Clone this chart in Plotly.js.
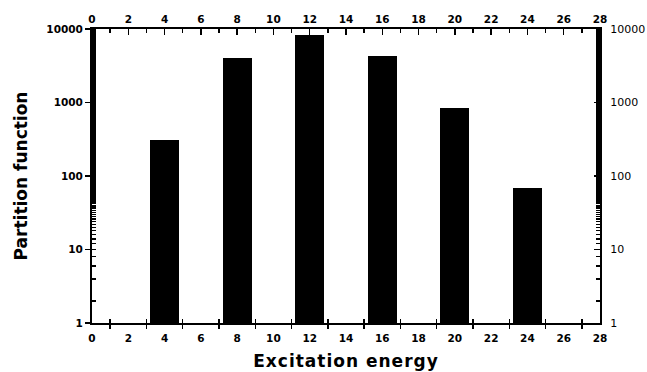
<!DOCTYPE html>
<html>
<head>
<meta charset="utf-8">
<script src="https://cdn.plot.ly/plotly-3.0.1.min.js"></script>
<style>
html,body{margin:0;padding:0;background:#fff;}
#chart{width:647px;height:372px;}
.g-xtitle text{letter-spacing:1px;}
</style>
</head>
<body>
<div id="chart"></div>
<script>
const energies = [4, 8, 12, 16, 20, 24];
const partition = [310, 4025, 8360, 4325, 845, 68];
const xTickVals = [0, 2, 4, 6, 8, 10, 12, 14, 16, 18, 20, 22, 24, 26, 28];
const xOddTicks = [1, 3, 5, 7, 9, 11, 13, 15, 17, 19, 21, 23, 25, 27];
const yTickVals = [1, 10, 100, 1000, 10000];
const yTickText = ['1', '10', '100', '1000', '10000'];

const fam = 'DejaVu Sans, Liberation Sans, Arial, sans-serif';
const boldTick = {family: fam, size: 10.5, color: '#000', weight: 'bold'};
const plainTick = {family: fam, size: 11, color: '#000'};
const titleFont = {family: fam, size: 17, color: '#000', weight: 'bold'};

const xBase = {
  range: [0, 28], tickmode: 'array', tickvals: xTickVals, ticktext: xTickVals.map(String),
  showline: true, linecolor: '#000', linewidth: 2, showgrid: false, zeroline: false,
  tickfont: boldTick, fixedrange: true
};

const data = [
  {type: 'bar', x: energies, y: partition, width: 1.6, marker: {color: '#000', line: {width: 0}}, xaxis: 'x', yaxis: 'y', hoverinfo: 'none'},
  {type: 'scatter', mode: 'markers', x: [energies[0]], y: [partition[0]], marker: {opacity: 0}, xaxis: 'x2', yaxis: 'y2', hoverinfo: 'none', showlegend: false},
  {type: 'scatter', mode: 'markers', x: [energies[0]], y: [partition[0]], marker: {opacity: 0}, xaxis: 'x3', yaxis: 'y', hoverinfo: 'none', showlegend: false}
];

const layout = {
  width: 647, height: 372,
  margin: {l: 92, r: 47, t: 29, b: 49},
  paper_bgcolor: '#fff', plot_bgcolor: '#fff',
  showlegend: false,
  bargap: 0,
  xaxis: Object.assign({}, xBase, {side: 'bottom', anchor: 'y',
    ticks: '', ticklabelstandoff: 4,
    minor: {tickmode: 'array', tickvals: xOddTicks, ticks: 'outside', ticklen: 4, tickwidth: 1.5, tickcolor: '#000'},
    title: {text: 'Excitation energy', font: titleFont, standoff: 13}}),
  xaxis3: {range: [0, 28], overlaying: 'x', anchor: 'y', side: 'bottom', showline: false, showgrid: false, zeroline: false,
    tickmode: 'array', tickvals: xOddTicks, ticks: 'inside', ticklen: 4, tickwidth: 1.5, tickcolor: '#000',
    showticklabels: false, fixedrange: true},
  xaxis2: Object.assign({}, xBase, {side: 'top', overlaying: 'x', anchor: 'y',
    ticks: 'inside', ticklen: 6, tickwidth: 1.5, tickcolor: '#000',
    minor: {dtick: 1, tick0: 0, ticks: 'inside', ticklen: 4, tickwidth: 1.5, tickcolor: '#000'}}),
  yaxis: {type: 'log', range: [0, 4], side: 'left', anchor: 'x',
    tickmode: 'array', tickvals: yTickVals, ticktext: yTickText,
    ticks: 'outside', ticklen: 5, tickwidth: 1.5, tickcolor: '#000',
    minor: {ticks: 'inside', ticklen: 4, tickwidth: 1.5, tickcolor: '#000', showgrid: false},
    showline: true, linecolor: '#000', linewidth: 2, showgrid: false, zeroline: false,
    tickfont: boldTick, fixedrange: true,
    title: {text: 'Partition function', font: titleFont, standoff: 14}},
  yaxis2: {type: 'log', range: [0, 4], side: 'right', overlaying: 'y', anchor: 'x',
    tickmode: 'array', tickvals: yTickVals, ticktext: yTickText,
    ticks: 'inside', ticklen: 6, tickwidth: 1.5, tickcolor: '#000',
    minor: {ticks: 'inside', ticklen: 4, tickwidth: 1.5, tickcolor: '#000', showgrid: false},
    showline: true, linecolor: '#000', linewidth: 2, showgrid: false, zeroline: false,
    tickfont: plainTick, ticklabelstandoff: 6, fixedrange: true}
};

Plotly.newPlot('chart', data, layout, {staticPlot: true, displayModeBar: false});
</script>
</body>
</html>
